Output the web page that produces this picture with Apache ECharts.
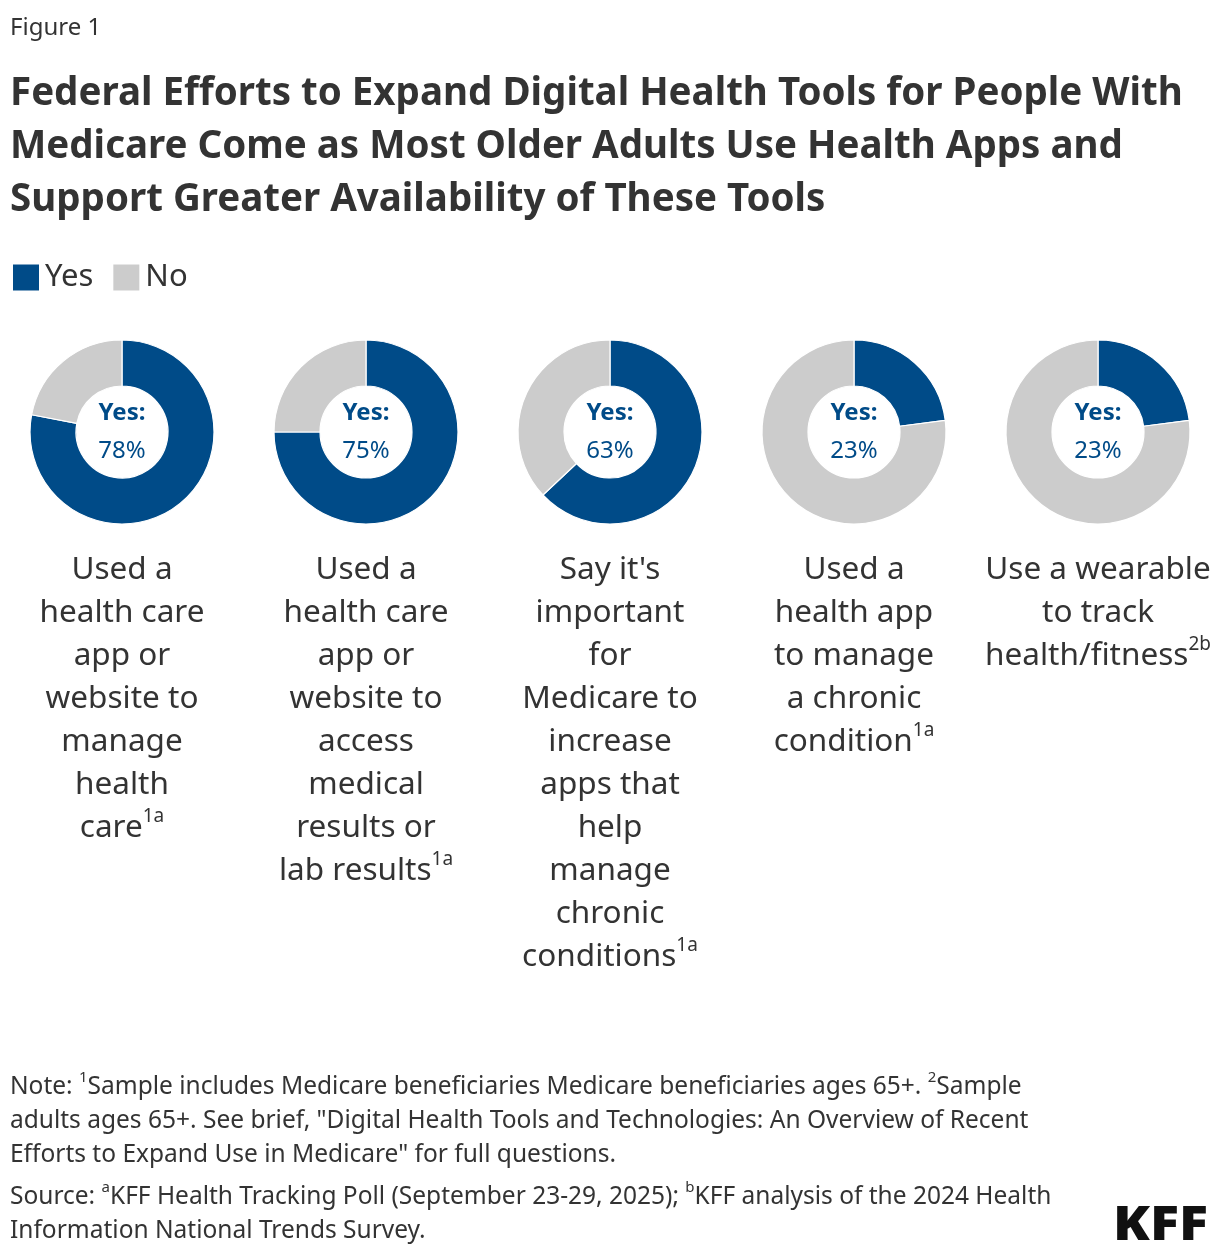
<!DOCTYPE html>
<html>
<head>
<meta charset="utf-8">
<script src="https://cdn.jsdelivr.net/npm/echarts@6/dist/echarts.min.js"></script>
<style>
  html, body { margin: 0; padding: 0; background: #fff; }
  #chart { width: 1220px; height: 1256px; }
</style>
</head>
<body>
<div id="chart"></div>
<script>
// data
const seriesNames = ['Yes', 'No']
const yesValues = [78, 75, 63, 23, 23]
const noValues = [22, 25, 37, 77, 77]
const categoryLines = [
  ['Used a', 'health care', 'app or', 'website to', 'manage', 'health', 'care'],
  ['Used a', 'health care', 'app or', 'website to', 'access', 'medical', 'results or', 'lab results'],
  ["Say it's", 'important', 'for', 'Medicare to', 'increase', 'apps that', 'help', 'manage', 'chronic', 'conditions'],
  ['Used a', 'health app', 'to manage', 'a chronic', 'condition'],
  ['Use a wearable', 'to track', 'health/fitness']
]
const categoryNotes = ['1a', '1a', '1a', '1a', '2b']

const FONT = '"Noto Sans", Lato, sans-serif'
const BLUE = '#004b88'
const GREY = '#cccccc'
const TEXT = '#333333'

const chart = echarts.init(document.getElementById('chart'), null, { renderer: 'canvas' })

const pies = yesValues.map((v, i) => ({
  type: 'pie',
  center: [122 + i * 244, 432],
  radius: [46, 92],
  startAngle: 90,
  clockwise: true,
  silent: true,
  label: { show: false },
  labelLine: { show: false },
  itemStyle: { borderColor: '#fff', borderWidth: 1.2 },
  emphasis: { disabled: true },
  data: [
    {
      name: seriesNames[0],
      value: v,
      itemStyle: { color: BLUE },
      label: {
        show: true,
        position: 'center',
        formatter: '{b|Yes:}\n{v|' + v + '%}',
        rich: {
          b: { fontFamily: FONT, fontSize: 24, fontWeight: 'bold', color: BLUE, lineHeight: 38 },
          v: { fontFamily: FONT, fontSize: 24, color: BLUE, lineHeight: 38 }
        }
      }
    },
    { name: seriesNames[1], value: noValues[i], itemStyle: { color: GREY } }
  ]
}))

const supRich = (size, lh) => ({
  sup: { fontFamily: FONT, fontSize: size, lineHeight: lh, verticalAlign: 'top', fill: TEXT }
})

const categoryTexts = categoryLines.map((lines, i) => {
  const txt = lines.slice(0, -1).concat(lines[lines.length - 1] + '{sup|' + categoryNotes[i] + '}')
  return {
    type: 'text',
    x: 122 + i * 244,
    y: 549,
    silent: true,
    style: {
      text: txt.join('\n'),
      fontFamily: FONT,
      fontSize: 31.5,
      fill: TEXT,
      lineHeight: 43,
      align: 'center',
      verticalAlign: 'top',
      rich: supRich(19, 24)
    }
  }
})

const noteText = [
  'Note: {sup|1}Sample includes Medicare beneficiaries Medicare beneficiaries ages 65+. {sup|2}Sample',
  'adults ages 65+. See brief, "Digital Health Tools and Technologies: An Overview of Recent',
  'Efforts to Expand Use in Medicare" for full questions.'
]
const sourceText = [
  'Source: {sup|a}KFF Health Tracking Poll (September 23-29, 2025); {sup|b}KFF analysis of the 2024 Health',
  'Information National Trends Survey.'
]
const titleText = [
  'Federal Efforts to Expand Digital Health Tools for People With',
  'Medicare Come as Most Older Adults Use Health Apps and',
  'Support Greater Availability of These Tools'
]

chart.setOption({
  animation: false,
  backgroundColor: '#fff',
  legend: {
    left: 6,
    top: 257,
    itemWidth: 28,
    itemHeight: 28,
    itemGap: 18,
    icon: 'rect',
    selectedMode: false,
    data: seriesNames,
    textStyle: { fontFamily: FONT, fontSize: 31, color: TEXT }
  },
  series: pies,
  graphic: [
    {
      type: 'text', x: 10, y: 16, silent: true,
      style: { text: 'Figure 1', fontFamily: FONT, fontSize: 24, fill: TEXT }
    },
    {
      type: 'text', x: 10, y: 68, silent: true,
      style: {
        text: titleText.join('\n'), fontFamily: FONT, fontSize: 38.5, fontWeight: 'bold',
        fill: TEXT, lineHeight: 53, verticalAlign: 'top'
      }
    },
    ...categoryTexts,
    {
      type: 'text', x: 10, y: 1070, silent: true,
      style: {
        text: noteText.join('\n'), fontFamily: FONT, fontSize: 24.5, fill: TEXT,
        lineHeight: 34, verticalAlign: 'top', rich: supRich(15, 20)
      }
    },
    {
      type: 'text', x: 10, y: 1180, silent: true,
      style: {
        text: sourceText.join('\n'), fontFamily: FONT, fontSize: 24.5, fill: TEXT,
        lineHeight: 34, verticalAlign: 'top', rich: supRich(15, 20)
      }
    },
    {
      type: 'text', x: 1208, y: 1226, silent: true, scaleX: 1.12,
      style: {
        text: 'KFF', fontFamily: FONT, fontSize: 48, fontWeight: 900, fill: '#111',
        align: 'right', verticalAlign: 'middle'
      }
    }
  ]
})
</script>
</body>
</html>
